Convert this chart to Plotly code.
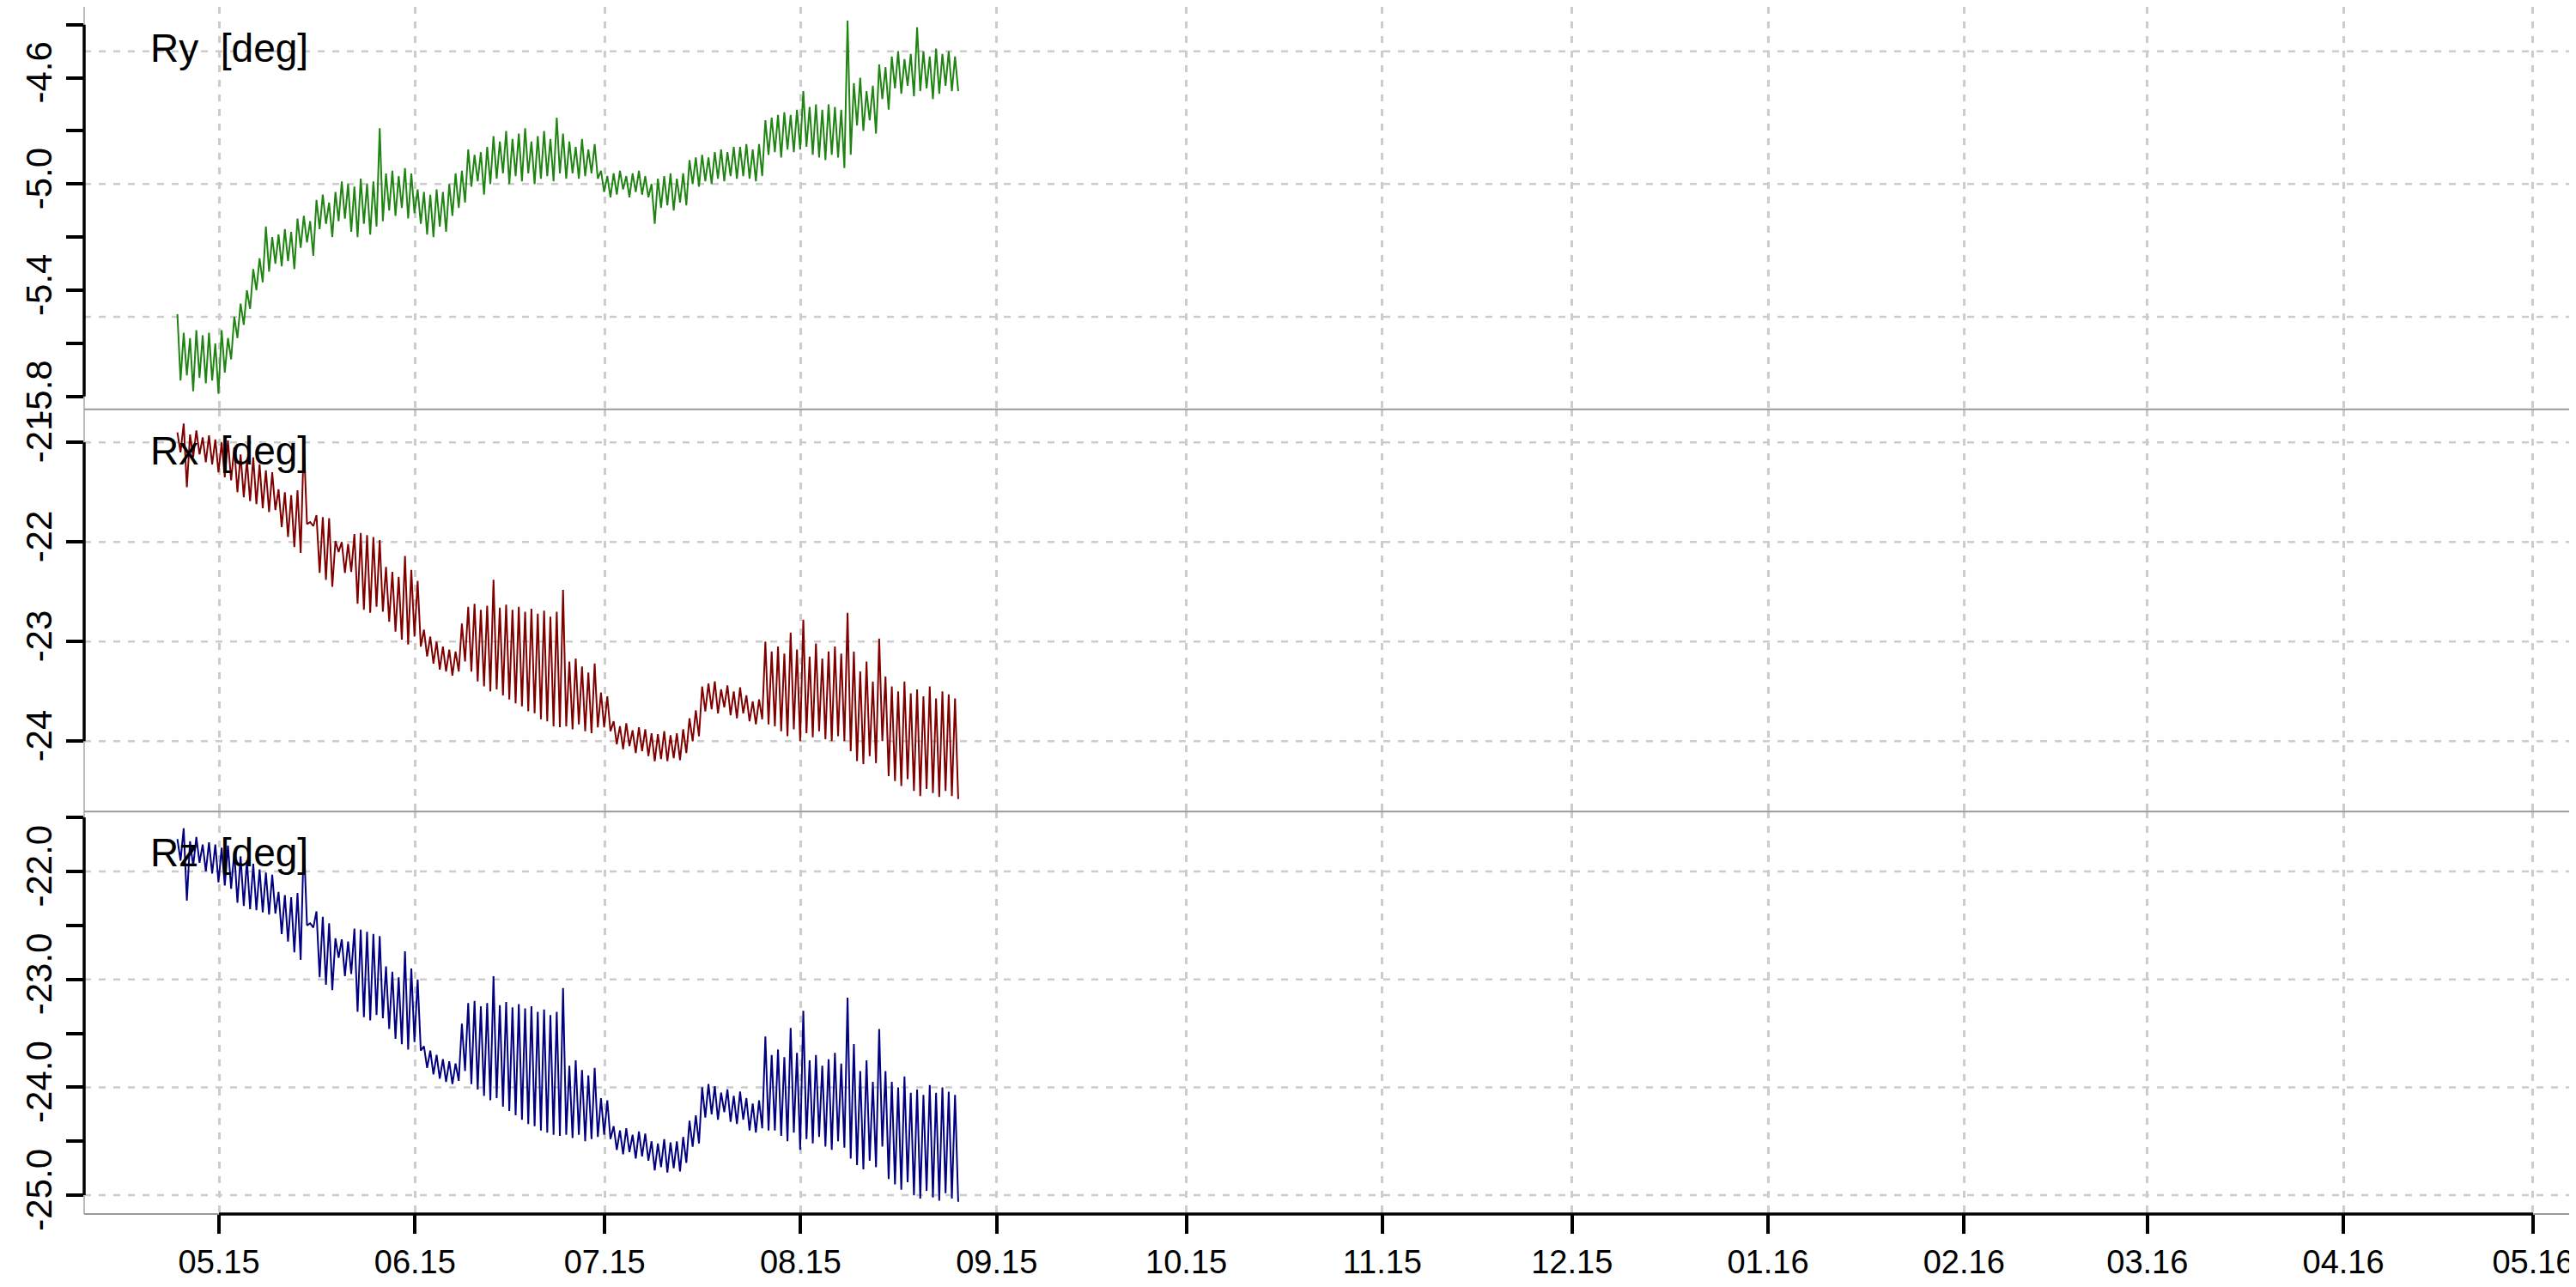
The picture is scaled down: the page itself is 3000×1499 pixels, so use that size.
import pandas as pd
import plotly.graph_objects as go
from plotly.subplots import make_subplots

# ---------------- data (daily high / low values) ----------------
START = pd.Timestamp("2015-04-24 10:00")   # first sample
STEP_HOURS = 12

ry_hi = [-5.49, -5.56, -5.58, -5.55, -5.57, -5.56,
         -5.60, -5.55, -5.58,
         -5.50, -5.45, -5.40,
         -5.32, -5.28, -5.16,
         -5.20, -5.19, -5.17, -5.18,
         -5.13, -5.12, -5.14,
         -5.06, -5.04, -5.07, -5.03,
         -4.99, -5.00, -5.01, -4.98, -5.00, -4.99,
         -4.79, -4.96, -4.95, -4.97, -4.94, -4.96,
         -5.02, -5.03, -5.04, -5.02, -5.03, -5.00,
         -4.96, -4.95,
         -4.87, -4.89, -4.88, -4.86,
         -4.82, -4.84, -4.80, -4.83, -4.81, -4.79, -4.84, -4.82, -4.80, -4.83, -4.75, -4.81,
         -4.84, -4.86, -4.83, -4.87, -4.85,
         -4.95, -4.97, -4.96, -4.95, -4.97, -4.96, -4.95, -4.97,
         -5.00,
         -4.98, -4.97, -4.96, -4.98, -4.96,
         -4.91, -4.90, -4.89, -4.90, -4.88, -4.87, -4.88, -4.86,
         -4.86, -4.85, -4.87, -4.85,
         -4.76, -4.75, -4.74, -4.73, -4.74, -4.72, -4.65,
         -4.71, -4.70, -4.72, -4.70, -4.71, -4.72,
         -4.385,
         -4.62, -4.60, -4.65, -4.63,
         -4.55, -4.56,
         -4.52, -4.50, -4.53, -4.51, -4.41, -4.50, -4.52, -4.49, -4.51, -4.50, -4.52]
ry_lo = [-5.74, -5.72, -5.78, -5.73, -5.75, -5.74,
         -5.79, -5.71, -5.66,
         -5.58, -5.53, -5.47,
         -5.40, -5.37, -5.33,
         -5.30, -5.31, -5.29, -5.32,
         -5.24, -5.22, -5.27,
         -5.17, -5.15, -5.20, -5.14,
         -5.13, -5.18, -5.20, -5.15, -5.19, -5.16,
         -5.14, -5.10, -5.12, -5.09, -5.13, -5.11,
         -5.15, -5.19, -5.20, -5.16, -5.18, -5.12,
         -5.09, -5.07,
         -5.01, -4.99, -5.04, -5.00,
         -4.98, -4.96, -5.00, -4.97, -4.99, -4.96, -5.00, -4.98, -4.97, -4.99, -4.96, -4.98,
         -4.96, -4.98, -4.97, -4.96, -4.98,
         -5.03, -5.05, -5.04, -5.02, -5.05, -5.03, -5.04, -5.05,
         -5.15,
         -5.09, -5.08, -5.10, -5.07, -5.08,
         -5.00, -5.01, -4.99, -5.00, -4.98, -4.99, -4.97, -4.98,
         -4.97, -4.98, -4.99, -4.97,
         -4.89, -4.88, -4.90, -4.87, -4.88, -4.87, -4.86,
         -4.89, -4.90, -4.91, -4.89, -4.90, -4.94,
         -4.89,
         -4.78, -4.80, -4.76, -4.81,
         -4.68, -4.72,
         -4.64, -4.66, -4.63, -4.67, -4.65, -4.64, -4.68, -4.66, -4.63, -4.65, -4.65]

rx_hi = [-20.90, -20.81, -20.92, -20.88, -20.95, -20.93,
         -20.97, -21.00, -20.98,
         -21.05, -21.12, -21.18,
         -21.15, -21.22, -21.28, -21.30,
         -21.47, -21.50, -21.53, -21.48,
         -20.99,
         -21.80,
         -21.73, -21.75, -21.76,
         -21.99, -22.00, -22.02,
         -21.92, -21.91, -21.93, -21.95, -21.98,
         -22.25, -22.30, -22.35, -22.14, -22.28,
         -22.39,
         -22.88, -22.95, -23.00, -23.05, -23.08, -23.10,
         -22.82,
         -22.65, -22.62, -22.68, -22.64, -22.38, -22.66, -22.63, -22.68, -22.65, -22.70,
         -22.67, -22.72, -22.69, -22.75, -22.70,
         -22.48,
         -23.20, -23.17, -23.25, -23.31, -23.22,
         -23.51, -23.55,
         -23.80, -23.85, -23.82, -23.89, -23.86, -23.88,
         -23.92, -23.93, -23.90, -23.94, -23.92, -23.88,
         -23.77, -23.69,
         -23.45, -23.42, -23.40, -23.48, -23.44, -23.50, -23.46,
         -23.54, -23.60, -23.58,
         -23.00,
         -23.10, -23.05, -23.12, -22.91, -23.08, -22.78, -23.15, -23.02, -23.17, -23.10, -23.05, -23.12,
         -22.71, -23.10, -23.30, -23.20, -23.40,
         -22.97,
         -23.35, -23.45, -23.50, -23.40, -23.52, -23.48, -23.55, -23.45, -23.57, -23.50, -23.53, -23.57]
rx_lo = [-21.10, -21.45, -21.15, -21.12, -21.20, -21.22,
         -21.30, -21.35, -21.38,
         -21.50, -21.55, -21.59,
         -21.62, -21.66, -21.70, -21.68,
         -21.85, -21.95, -22.05, -22.11,
         -21.82,
         -21.84,
         -22.31, -22.38, -22.45,
         -22.10, -22.31, -22.30,
         -22.62, -22.68, -22.71, -22.65, -22.70,
         -22.80, -22.90, -22.98, -23.03, -22.95,
         -23.05,
         -23.15, -23.22, -23.28, -23.30, -23.34, -23.30,
         -23.20,
         -23.30, -23.40, -23.45, -23.50, -23.48, -23.54, -23.58, -23.62, -23.65, -23.70,
         -23.72, -23.78, -23.80, -23.85, -23.86,
         -23.85,
         -23.88, -23.83, -23.90, -23.92, -23.86,
         -23.86, -23.90,
         -24.03, -24.08, -24.05, -24.12, -24.10, -24.15,
         -24.20, -24.18, -24.20, -24.17, -24.19, -24.12,
         -24.00, -23.95,
         -23.70, -23.68, -23.72, -23.66, -23.74, -23.77, -23.72,
         -23.80, -23.83, -23.78,
         -23.83,
         -23.85, -23.90, -23.95, -23.88, -24.00, -23.92, -23.96, -23.90, -23.98, -24.00, -23.95, -24.00,
         -24.10, -24.20, -24.23, -24.15, -24.22,
         -24.00,
         -24.35, -24.40, -24.45, -24.38, -24.50, -24.55, -24.48, -24.52, -24.56, -24.50, -24.55, -24.58]

rz_hi = [-21.70, -21.60, -21.72, -21.68, -21.75, -21.73,
         -21.75, -21.78, -21.76,
         -21.82, -21.86, -21.90,
         -21.93, -21.98, -22.01, -22.03,
         -22.19, -22.22, -22.24, -22.20,
         -21.71,
         -22.48,
         -22.37, -22.42, -22.48,
         -22.62, -22.63, -22.65,
         -22.53, -22.54, -22.56, -22.58, -22.60,
         -22.88, -22.93, -22.98, -22.74, -22.90,
         -23.00,
         -23.62, -23.66, -23.70, -23.74, -23.76, -23.78,
         -23.41,
         -23.22, -23.20, -23.25, -23.22, -22.97, -23.24, -23.21, -23.26, -23.23, -23.27,
         -23.25, -23.30, -23.28, -23.33, -23.30,
         -23.08,
         -23.80, -23.75, -23.84, -23.89, -23.82,
         -24.10, -24.12,
         -24.36, -24.40, -24.38, -24.44, -24.41, -24.43,
         -24.50, -24.52, -24.48, -24.51, -24.50, -24.46,
         -24.31, -24.26,
         -24.00, -23.97, -23.99, -24.05, -24.02, -24.08, -24.04,
         -24.10, -24.15, -24.12,
         -23.53,
         -23.70, -23.65, -23.72, -23.45, -23.68, -23.29, -23.75, -23.70, -23.80, -23.74, -23.68, -23.78,
         -23.17, -23.60, -23.85, -23.75, -23.95,
         -23.46,
         -23.85, -23.95, -24.00, -23.90, -24.05, -24.02, -24.07, -23.98, -24.05, -24.00, -24.04, -24.07]
rz_lo = [-21.90, -22.27, -21.95, -21.92, -22.00, -22.02,
         -22.10, -22.13, -22.16,
         -22.29, -22.32, -22.35,
         -22.36, -22.38, -22.40, -22.39,
         -22.58, -22.65, -22.75, -22.82,
         -22.50,
         -22.52,
         -22.98, -23.05, -23.10,
         -22.80, -22.97, -22.95,
         -23.30, -23.35, -23.38, -23.33, -23.36,
         -23.46, -23.55, -23.60, -23.65, -23.58,
         -23.66,
         -23.82, -23.88, -23.92, -23.95, -23.97, -23.94,
         -23.85,
         -23.97, -24.02, -24.08, -24.12, -24.10, -24.18, -24.22, -24.26, -24.30, -24.34,
         -24.36, -24.40, -24.42, -24.44, -24.45,
         -24.44,
         -24.47, -24.44, -24.50, -24.48, -24.46,
         -24.44, -24.48,
         -24.58, -24.62, -24.60, -24.66, -24.64, -24.68,
         -24.77, -24.74, -24.79, -24.75, -24.78, -24.70,
         -24.55, -24.52,
         -24.28, -24.25, -24.30, -24.23, -24.32, -24.34, -24.30,
         -24.40, -24.42, -24.38,
         -24.40,
         -24.40, -24.45, -24.50, -24.42, -24.58, -24.48, -24.52, -24.46, -24.55, -24.58, -24.50, -24.56,
         -24.66, -24.72, -24.76, -24.68, -24.74,
         -24.55,
         -24.85, -24.90, -24.95, -24.88, -25.00, -25.03, -24.96, -25.02, -25.05, -24.98, -25.03, -25.06]

month_labels = ["05.15", "06.15", "07.15", "08.15", "09.15", "10.15", "11.15",
                "12.15", "01.16", "02.16", "03.16", "04.16", "05.16"]
month_dates = pd.date_range("2015-05-01", periods=len(month_labels), freq="MS")

panel_names = ["Ry\u00a0\u00a0[deg]", "Rx\u00a0\u00a0[deg]", "Rz\u00a0\u00a0[deg]"]
panel_colors = ["#1f8412", "#800000", "#000080"]

# y axis ticks / grid for each panel
y_ticks = [[-4.4, -4.6, -4.8, -5.0, -5.2, -5.4, -5.6, -5.8],
           [-21, -22, -23, -24],
           [-21.5, -22.0, -22.5, -23.0, -23.5, -24.0, -24.5, -25.0]]
y_ticktext = [["", "-4.6", "", "-5.0", "", "-5.4", "", "-5.8"],
              ["-21", "-22", "-23", "-24"],
              ["", "-22.0", "", "-23.0", "", "-24.0", "", "-25.0"]]
y_grid = [[-4.5, -5.0, -5.5], [-21, -22, -23, -24], [-22, -23, -24, -25]]
y_ranges = [[-5.848, -4.333], [-24.707, -20.667], [-25.174, -21.446]]


def interleave(hi, lo):
    out = []
    for h, l in zip(hi, lo):
        out += [h, l]
    return out


series = [interleave(ry_hi, ry_lo), interleave(rx_hi, rx_lo), interleave(rz_hi, rz_lo)]

# ---------------- figure ----------------
W, H = 3000, 1499
ML, MR, MT, MB = 90, 4, 0, 93
FONT = "Liberation Sans, Arial, Helvetica, sans-serif"
GRID = "#cccccc"
GRID_DASH = "8px,9px"

fig = make_subplots(rows=3, cols=1, shared_xaxes=True, vertical_spacing=0)

for i, vals in enumerate(series):
    t = [START + pd.Timedelta(hours=STEP_HOURS * k) for k in range(len(vals))]
    fig.add_trace(go.Scatter(x=t, y=vals, mode="lines",
                             line=dict(color=panel_colors[i], width=2),
                             showlegend=False, hoverinfo="skip"),
                  row=i + 1, col=1)

x_left = month_dates[0] - pd.Timedelta(days=21.33)
x_right = month_dates[-1] + pd.Timedelta(days=7.34)

domains = [[2 / 3, 1.0], [1 / 3, 2 / 3], [0.0, 1 / 3]]

for i in range(3):
    xa = "xaxis" if i == 0 else f"xaxis{i + 1}"
    ya = "yaxis" if i == 0 else f"yaxis{i + 1}"
    bottom = (i == 2)
    fig.layout[xa].update(
        type="date", range=[x_left, x_right],
        tickmode="array", tickvals=list(month_dates), ticktext=month_labels,
        showticklabels=bottom, ticks="outside" if bottom else "",
        ticklen=22, tickwidth=3.5, tickcolor="black",
        tickfont=dict(family=FONT, size=38, color="black"),
        showgrid=True, gridcolor=GRID, gridwidth=2.5, griddash=GRID_DASH,
        showline=False, zeroline=False, fixedrange=True)
    fig.layout[ya].update(
        domain=domains[i], range=y_ranges[i],
        tickmode="array", tickvals=y_ticks[i], ticktext=y_ticktext[i],
        ticks="outside", ticklen=20, tickwidth=3.5, tickcolor="black",
        tickangle=-90, tickfont=dict(family=FONT, size=42, color="black"),
        showgrid=False, showline=False, zeroline=False, fixedrange=True)

shapes = []
# horizontal grid lines
for i in range(3):
    yref = "y" if i == 0 else f"y{i + 1}"
    for v in y_grid[i]:
        shapes.append(dict(type="line", xref="paper", yref=yref, x0=0, x1=1, y0=v, y1=v,
                           line=dict(color=GRID, width=2.5, dash=GRID_DASH), layer="below"))
# gray box lines
BOX = "#9a9a9a"
shapes.append(dict(type="line", xref="paper", yref="paper", x0=0, x1=0, y0=0, y1=1,
                   line=dict(color="#bdbdbd", width=2)))
shapes.append(dict(type="line", xref="paper", yref="paper", x0=1, x1=1, y0=0, y1=1,
                   line=dict(color="#bdbdbd", width=2)))
for yb in [0.0, 1 / 3, 2 / 3]:
    shapes.append(dict(type="line", xref="paper", yref="paper", x0=0, x1=1, y0=yb, y1=yb,
                       line=dict(color=BOX, width=2)))
# black y axis lines spanning first..last tick
for i in range(3):
    yref = "y" if i == 0 else f"y{i + 1}"
    shapes.append(dict(type="line", xref="paper", yref=yref, x0=0, x1=0,
                       y0=y_ticks[i][0], y1=y_ticks[i][-1],
                       line=dict(color="black", width=3.5)))
# black x axis line spanning first..last month tick
shapes.append(dict(type="line", xref="x3", yref="paper", x0=month_dates[0], x1=month_dates[-1],
                   y0=0, y1=0, line=dict(color="black", width=3.5)))

annotations = []
plot_h = H - MT - MB
plot_w = W - ML - MR
for i, name in enumerate(panel_names):
    top_px = i * plot_h / 3
    annotations.append(dict(text=name, xref="paper", yref="paper",
                            x=(165 - ML) / plot_w, y=1 - (top_px + 48) / plot_h,
                            xanchor="left", yanchor="middle", showarrow=False,
                            font=dict(family=FONT, size=46, color="black")))

fig.update_layout(width=W, height=H, margin=dict(l=ML, r=MR, t=MT, b=MB),
                  paper_bgcolor="white", plot_bgcolor="white",
                  shapes=shapes, annotations=annotations, showlegend=False)

fig.write_html("out.html")
